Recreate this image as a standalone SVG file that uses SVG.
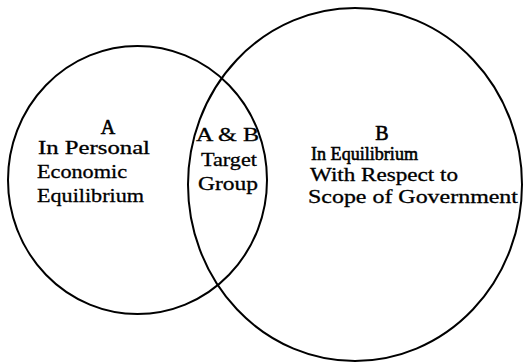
<svg xmlns="http://www.w3.org/2000/svg" width="523" height="363" viewBox="0 0 523 363">
<style>
.c{fill:none;stroke:#000;stroke-width:2}
.t{font-family:"Liberation Serif","Times New Roman",serif;font-size:18.5px;fill:#000;stroke:#000;stroke-width:0.3}
.m{text-anchor:middle}
.h{font-size:20px;stroke-width:0.6}
.e{font-size:19.5px;stroke-width:0.6}
</style>
<rect width="523" height="363" fill="#fff"/>
<g id="connectors"></g>
<g id="circleA">
<ellipse class="c" cx="137.5" cy="180" rx="129.5" ry="134"/>
<text class="t m h" x="108" y="134">A</text>
<text class="t" x="38" y="154" textLength="112" lengthAdjust="spacingAndGlyphs">In  Personal</text>
<text class="t" x="37" y="178" textLength="90" lengthAdjust="spacingAndGlyphs">Economic</text>
<text class="t" x="37" y="202" textLength="107" lengthAdjust="spacingAndGlyphs">Equilibrium</text>
</g>
<g id="circleB">
<ellipse class="c" cx="355" cy="184.5" rx="167" ry="176.5"/>
<text class="t m h" x="382" y="140">B</text>
<text class="t e" x="311" y="160" textLength="107" lengthAdjust="spacingAndGlyphs">In Equilibrium</text>
<text class="t" x="310" y="181" textLength="148" lengthAdjust="spacingAndGlyphs">With Respect to</text>
<text class="t" x="308" y="203" textLength="210" lengthAdjust="spacingAndGlyphs">Scope of Government</text>
</g>
<g id="intersection">
<text class="t" x="196" y="141" textLength="63" lengthAdjust="spacingAndGlyphs">A &amp; B</text>
<text class="t" x="201" y="166" textLength="56" lengthAdjust="spacingAndGlyphs">Target</text>
<text class="t" x="198" y="190" textLength="60" lengthAdjust="spacingAndGlyphs">Group</text>
</g>
</svg>
